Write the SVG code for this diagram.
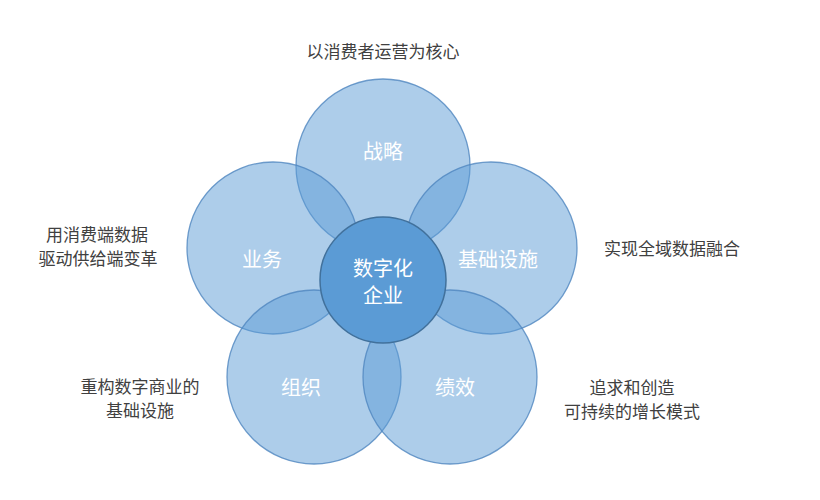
<svg xmlns="http://www.w3.org/2000/svg" width="820" height="500" viewBox="0 0 820 500">
<style>
.petal{fill:#5b9bd5;fill-opacity:0.5;stroke:#4f86bf;stroke-opacity:0.8;stroke-width:1.3}
.core{fill:#5b9bd5;stroke:#41719c;stroke-width:1.5}
.in{font-family:"Noto Sans CJK SC",sans-serif;font-size:20px;fill:#ffffff;text-anchor:middle;dominant-baseline:central}
.out{font-family:"Noto Sans CJK SC",sans-serif;font-size:17px;fill:#404040;text-anchor:middle;dominant-baseline:central}
</style>
<rect width="820" height="500" fill="#ffffff"/>
<g id="connectors"></g>
<g id="strategy"><circle class="petal" cx="383" cy="166" r="87"/><text class="in" x="383" y="150">战略</text></g>
<g id="business"><circle class="petal" cx="273" cy="248" r="86"/><text class="in" x="262" y="258">业务</text></g>
<g id="infrastructure"><circle class="petal" cx="491" cy="248" r="86"/><text class="in" x="498" y="258">基础设施</text></g>
<g id="organization"><circle class="petal" cx="314" cy="377" r="87"/><text class="in" x="301" y="386">组织</text></g>
<g id="performance"><circle class="petal" cx="450" cy="377" r="87"/><text class="in" x="455" y="386">绩效</text></g>
<g id="core"><circle class="core" cx="383" cy="280" r="63"/><text class="in" x="383" y="267">数字化</text><text class="in" x="383" y="294">企业</text></g>
<g id="notes">
<text class="out" x="383" y="50">以消费者运营为核心</text>
<text class="out" x="97" y="233">用消费端数据</text>
<text class="out" x="98" y="257">驱动供给端变革</text>
<text class="out" x="672" y="247">实现全域数据融合</text>
<text class="out" x="140" y="385">重构数字商业的</text>
<text class="out" x="140" y="409">基础设施</text>
<text class="out" x="632" y="386">追求和创造</text>
<text class="out" x="632" y="410">可持续的增长模式</text>
</g>
</svg>
